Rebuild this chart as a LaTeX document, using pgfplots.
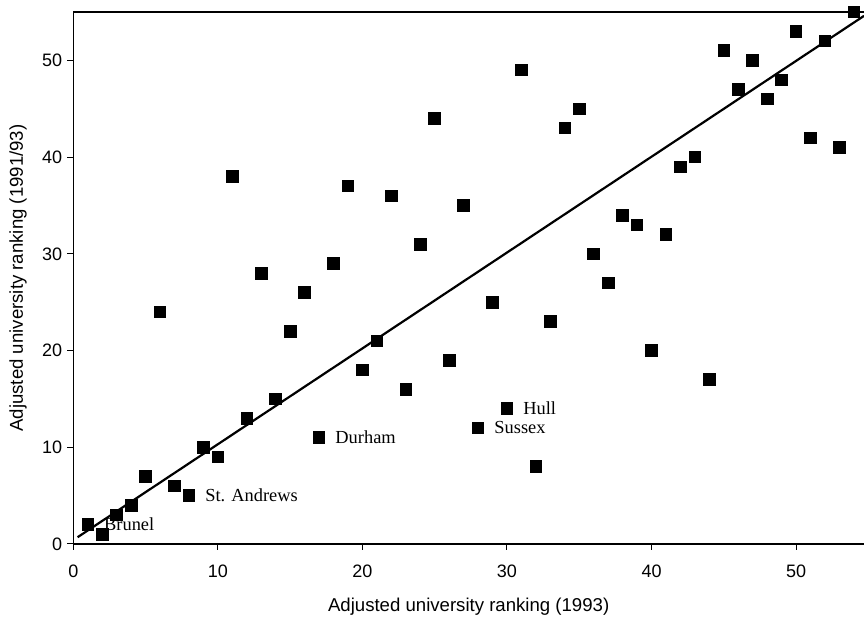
\documentclass[border=0pt]{standalone}
\usepackage{pgfplots}
\pgfplotsset{compat=1.18}
\usepackage{fontspec}
\setmainfont{Liberation Sans}
\newfontfamily\seriffont{Liberation Serif}
\begin{document}
\begin{tikzpicture}
\begin{axis}[
  name=ax,
  scale only axis,
  width=395.35pt, height=266pt,
  xmin=0, xmax=54.7, ymin=0, ymax=55,
  axis x line=box, axis y line=left,
  axis line style={line width=0.7pt, -},
  xtick={0,10,...,50}, ytick={0,10,...,50},
  xtick pos=bottom, ytick pos=left,
  tick align=outside, major tick length=3pt,
  tick style={line width=0.5pt, black},
  minor tick num=0,
  /pgf/number format/assume math mode=true,
  ticklabel style={font=\fontsize{9}{10}\selectfont},
  xticklabel style={yshift=-4pt},
  yticklabel style={xshift=1pt},
  xlabel={Adjusted university ranking (1993)},
  ylabel={Adjusted university ranking (1991/93)},
  label style={font=\fontsize{9.3}{11}\selectfont},
  xlabel style={at={(axis description cs:0.5,0)}, anchor=center, yshift=-31.5pt},
  ylabel style={at={(axis description cs:-0.07,0.5)}, anchor=center, rotate=0},
  clip=false,
]
\node[anchor=west, inner sep=0pt, font=\seriffont\fontsize{9.2}{11}\selectfont] at (axis cs:1,2) [xshift=8pt] {Brunel};
\node[anchor=west, inner sep=0pt, font=\seriffont\fontsize{9.2}{11}\selectfont] at (axis cs:8,5) [xshift=8pt] {St. Andrews};
\node[anchor=west, inner sep=0pt, font=\seriffont\fontsize{9.2}{11}\selectfont] at (axis cs:17,11) [xshift=8pt] {Durham};
\node[anchor=west, inner sep=0pt, font=\seriffont\fontsize{9.2}{11}\selectfont] at (axis cs:28,12) [xshift=8pt] {Sussex};
\node[anchor=west, inner sep=0pt, font=\seriffont\fontsize{9.2}{11}\selectfont] at (axis cs:30,14) [xshift=8pt] {Hull};
\addplot[black, line width=1.1pt, no marks] coordinates {(0.3,0.7) (54.7,54.6)};
\addplot[only marks, mark=square*, mark size=2.9pt, mark options={black, fill=black}] coordinates {
(1,2) (2,1) (3,3) (4,4) (5,7) (6,24) (7,6) (8,5) (9,10) (10,9)
(11,38) (12,13) (13,28) (14,15) (15,22) (16,26) (17,11) (18,29) (19,37) (20,18)
(21,21) (22,36) (23,16) (24,31) (25,44) (26,19) (27,35) (28,12) (29,25) (30,14)
(31,49) (32,8) (33,23) (34,43) (35,45) (36,30) (37,27) (38,34) (39,33) (40,20)
(41,32) (42,39) (43,40) (44,17) (45,51) (46,47) (47,50) (48,46) (49,48) (50,53)
(51,42) (52,52) (53,41) (54,55)
};
\end{axis}
\pgfresetboundingbox
\path (ax.south west) ++(-36.65pt,-37pt) coordinate (bl);
\path (ax.north east) ++(0pt,6pt) coordinate (tr);
\path[use as bounding box] (bl) rectangle (tr);
\end{tikzpicture}
\end{document}
